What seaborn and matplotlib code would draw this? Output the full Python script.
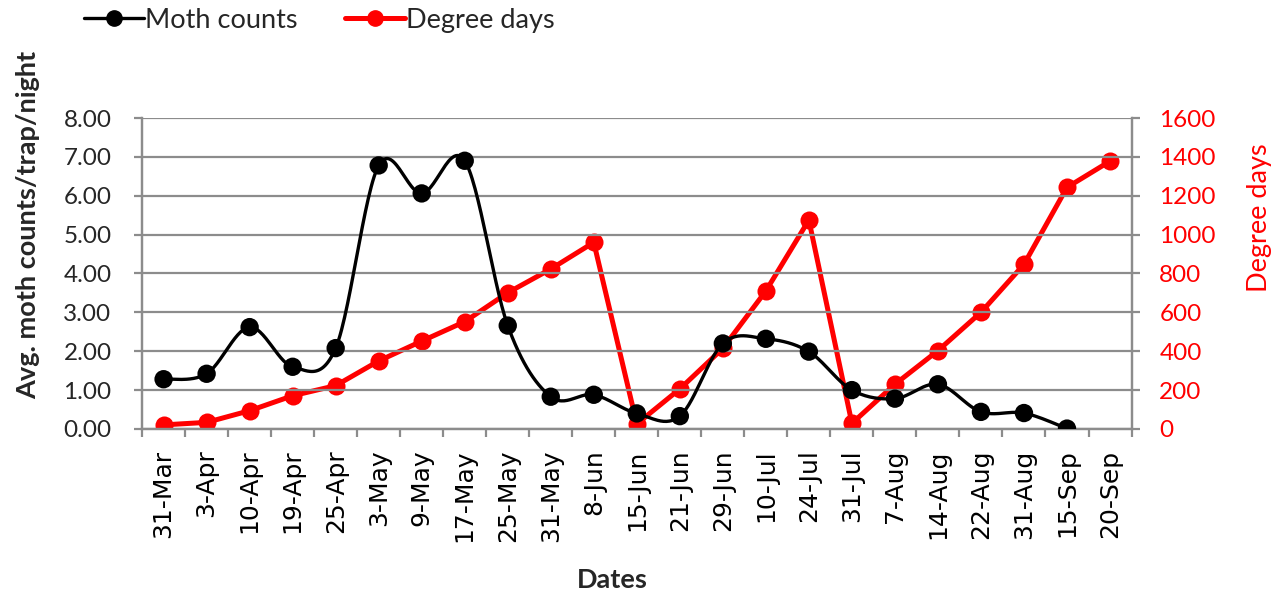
import os
import numpy as np
import pandas as pd
import matplotlib
matplotlib.use("Agg")
import matplotlib.pyplot as plt
import matplotlib.transforms as mtransforms
from matplotlib.lines import Line2D
from matplotlib.font_manager import FontProperties
import seaborn as sns

dates = ["31-Mar", "3-Apr", "10-Apr", "19-Apr", "25-Apr", "3-May", "9-May", "17-May",
         "25-May", "31-May", "8-Jun", "15-Jun", "21-Jun", "29-Jun", "10-Jul", "24-Jul",
         "31-Jul", "7-Aug", "14-Aug", "22-Aug", "31-Aug", "15-Sep", "20-Sep"]
# no trap count for the last date
moth_counts = [1.28, 1.42, 2.62, 1.60, 2.08, 6.78, 6.06, 6.90, 2.66, 0.83, 0.88,
               0.40, 0.33, 2.20, 2.32, 1.99, 1.00, 0.78, 1.15, 0.44, 0.41, 0.01]
degree_days = [21, 34, 94, 171, 223, 350, 452, 552, 701, 823, 960,
               26, 206, 415, 710, 1075, 29, 230, 403, 600, 847, 1243, 1378]

left_ticks = [0, 1, 2, 3, 4, 5, 6, 7, 8]
right_ticks = [0, 200, 400, 600, 800, 1000, 1200, 1400, 1600]

FONT = ["Lato", "DejaVu Sans"]
sns.set_theme(style="white")
plt.rcParams["font.family"] = FONT

GRID = "#8c8c8c"
RED = "#ff0000"

# date labels use the wider DejaVu face
_dejavu = os.path.join(matplotlib.get_data_path(), "fonts", "ttf", "DejaVuSans.ttf")
if os.path.exists(_dejavu):
    DATE_FONT = FontProperties(fname=_dejavu, size=18)
else:
    DATE_FONT = FontProperties(family="DejaVu Sans", size=18)


def smooth_curve(y, samples=30):
    """Catmull-Rom style Bezier spline through the points (index positions on x)."""
    y = np.asarray(y, dtype=float)
    x = np.arange(len(y), dtype=float)
    pts = np.column_stack([x, y])
    padded = np.vstack([pts[0], pts, pts[-1]])
    out = []
    t = np.linspace(0, 1, samples)[:, None]
    for i in range(len(pts) - 1):
        p0, p1, p2, p3 = padded[i], padded[i + 1], padded[i + 2], padded[i + 3]
        c1 = p1 + (p2 - p0) / 6.0
        c2 = p2 - (p3 - p1) / 6.0
        seg = ((1 - t) ** 3) * p1 + 3 * ((1 - t) ** 2) * t * c1 \
            + 3 * (1 - t) * t ** 2 * c2 + t ** 3 * p2
        out.append(seg if i == 0 else seg[1:])
    seg = np.vstack(out)
    return seg[:, 0], seg[:, 1]


moth_df = pd.DataFrame({"pos": np.arange(len(moth_counts)), "count": moth_counts})
dd_df = pd.DataFrame({"pos": np.arange(len(degree_days)), "dd": degree_days})

fig = plt.figure(figsize=(12.8, 5.93), dpi=100)
ax = fig.add_axes([0.111, 0.2766, 0.773, 0.5244])
ax2 = ax.twinx()

# horizontal gridlines on the left scale
for v in left_ticks:
    ax.axhline(v, color=GRID, lw=1.6, zorder=0)

# moth counts: smoothed line with markers
sx, sy = smooth_curve(moth_counts)
ax.plot(sx, sy, color="black", lw=2.4, zorder=3)
sns.scatterplot(data=moth_df, x="pos", y="count", ax=ax, color="black", s=175,
                edgecolor="none", zorder=4, legend=False)

# degree days: straight segments with markers
sns.lineplot(data=dd_df, x="pos", y="dd", ax=ax2, color=RED, lw=3.6,
             marker="o", markersize=13, markeredgewidth=0, zorder=5, legend=False)

ax.set_xlim(-0.5, len(dates) - 0.5)
ax.set_ylim(0, 8)
ax2.set_ylim(0, 1600)
ax.set_zorder(ax2.get_zorder() + 1)
ax.patch.set_visible(False)

ax.set_yticks(left_ticks)
ax.set_yticklabels([f"{v:.2f}" for v in left_ticks], fontsize=17.5)
ax2.set_yticks(right_ticks)
ax2.set_yticklabels([str(v) for v in right_ticks], fontsize=17.5, color=RED)

# category boundaries carry the tick marks; date names sit under each category
ax.set_xticks(np.arange(len(dates) + 1) - 0.5, minor=True)
ax.set_xticks(np.arange(len(dates)))
ax.set_xticklabels([])
ax.tick_params(axis="x", which="major", length=0)
ax.tick_params(axis="x", which="minor", length=6, width=1.6, color=GRID, bottom=True)
ax.tick_params(axis="y", length=6, width=1.6, color=GRID, left=True, pad=16)
ax2.tick_params(axis="y", length=6, width=1.6, color=GRID, right=True, pad=14)

date_trans = mtransforms.blended_transform_factory(ax.transData, ax.transAxes)
for i, name in enumerate(dates):
    ax.text(i, -0.066, name, transform=date_trans, rotation=90, ha="center",
            va="top", fontproperties=DATE_FONT, color="black")

for a in (ax, ax2):
    a.spines["top"].set_visible(False)
    for side in ("left", "right", "bottom"):
        a.spines[side].set_color(GRID)
        a.spines[side].set_linewidth(1.6)
    a.grid(False)

ax.set_xlabel("Dates", fontsize=19.5, fontweight="bold")
ax.xaxis.set_label_coords(0.475, -0.447)
ax.set_ylabel("Avg. moth counts/trap/night", fontsize=19.5, fontweight="bold")
ax.yaxis.set_label_coords(-0.103, 0.656)
ax2.set_ylabel("Degree days", fontsize=19.5, color=RED)
ax2.yaxis.set_label_coords(1.117, 0.68)

handles = [
    Line2D([], [], color="black", lw=2.4, marker="o", markersize=11),
    Line2D([], [], color=RED, lw=3.6, marker="o", markersize=11),
]
fig.legend(handles, ["Moth counts", "Degree days"], loc="center left",
           bbox_to_anchor=(0.066, 0.966), ncol=2, frameon=False, fontsize=19.5,
           handlelength=2.2, handletextpad=0.05, columnspacing=1.75,
           borderpad=0, borderaxespad=0)

fig.savefig("out.png", dpi=100, facecolor="white")
